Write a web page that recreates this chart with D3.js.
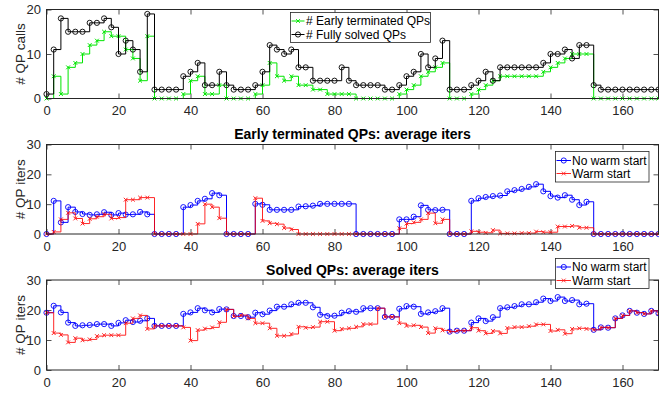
<!DOCTYPE html>
<html><head><meta charset="utf-8">
<script src="https://cdn.jsdelivr.net/npm/d3@7"></script>
<style>
body{margin:0;background:#fff}
svg{display:block;font-family:"Liberation Sans",Arial,Helvetica,sans-serif}
</style>
</head><body><svg id="c" width="659" height="393"></svg>
<script>
// ---------- data ----------
const iterIndex = [0,2,4,6,8,10,12,14,16,18,20,22,24,26,28,30,32,34,36,38,40,42,44,46,48,50,52,54,56,58,60,62,64,66,68,70,72,74,76,78,80,82,84,86,88,90,92,94,96,98,100,102,104,106,108,110,112,114,116,118,120,122,124,126,128,130,132,134,136,138,140,142,144,146,148,150,152,154,156,158,160,162,164,166,168,170];
const xTicks = [0,20,40,60,80,100,120,140,160];
const callsYTicks = [0,10,20];
const itersYTicks = [0,10,20,30];

const earlyTerminatedCalls = [
 0,5,1,7,8,10,12,13,15,14,
 14,11,9,4,14,0,0,0,0,1,
 4,5,1,1,3,0,0,0,0,1,
 3,8,5,4,5,3,3,2,2,1,
 1,1,1,0,0,0,0,0,0,1,
 2,3,5,6,7,8,0,0,0,1,
 2,3,4,5,5,5,5,5,5,6,
 7,8,9,10,10,10,0,0,0,0,
 0,0,0,0,0,0];
const fullySolvedCalls = [
 1,11,18,15,15,15,17,17,18,16,
 10,13,11,6,19,2,2,2,2,5,
 6,8,3,3,6,3,2,2,2,3,
 6,12,11,10,11,7,7,4,4,4,
 4,7,4,3,3,3,3,2,2,3,
 5,6,10,7,9,13,2,2,2,3,
 4,6,4,7,7,7,7,7,7,8,
 10,10,11,9,12,12,3,2,2,2,
 2,2,2,2,2,2];
const earlyNoWarm = [
 0,11.1,3.9,9.0,7.4,6.7,6.4,6.6,7.3,6.4,
 7.0,6.5,6.6,7.4,6.6,0,0,0,0,9.0,
 9.7,11.1,11.8,13.7,13.0,0,0,0,0,10.1,
 9.8,8.1,8.1,8.1,8.1,9.2,9.3,9.5,10.1,10.1,
 10.1,10.1,10.1,0,0,0,0,0,0,4.9,
 4.9,5.8,9.6,8.1,8.0,8.1,0,0,0,11.1,
 12.0,12.4,12.7,12.9,14.3,14.7,15.1,15.8,16.7,14.3,
 12.7,12.2,13.0,11.5,9.7,10.8,0,0,0,0,
 0,0,0,0,0,0];
const earlyWarm = [
 0,0.7,4.9,7.1,5.2,3.5,5.1,5.8,6.6,5.2,
 5.5,11.5,11.5,12.2,12.2,0,0,0,0,0,
 0,3.4,10.0,9.0,5.3,0,0,0,0,12.0,
 4.4,3.6,3.3,2.0,1.5,0,0,0,0,0,
 0,0,0,0,0,0,0,0,0,1.9,
 3.5,3.9,4.9,7.0,3.6,4.9,0,0,0,0.9,
 0.6,0.4,1.3,0.2,0.2,0.2,0.3,0.3,0.8,0.6,
 0.6,2.5,2.5,2.7,2.1,2.1,0,0,0,0,
 0,0,0,0,0,0];
const solvedNoWarm = [
 19.1,21.4,19.2,15.8,14.7,14.9,15.0,15.3,15.3,14.7,
 15.7,16.6,16.0,16.4,17.2,14.7,14.7,14.7,14.7,18.7,
 19.2,20.6,19.9,19.2,20.3,20.2,18.0,18.0,17.6,19.1,
 18.6,19.8,21.1,21.1,21.9,22.4,22.4,20.9,18.4,18.0,
 18.1,19.1,19.6,19.4,20.6,20.6,20.6,17.7,17.7,20.4,
 21.3,21.1,18.7,19.2,19.6,20.6,12.8,13.1,13.1,15.8,
 17.2,16.3,17.6,20.6,20.9,21.3,21.9,21.9,22.6,23.8,
 23.0,24.3,23.0,23.3,21.9,22.1,13.4,14.2,14.1,17.2,
 18.2,19.7,19.1,18.7,19.7,18.9];
const solvedWarm = [
 19.1,12.3,11.7,9.2,10.6,9.9,10.2,11.3,11.6,11.6,
 11.6,15.6,17.2,18.2,13.7,14.7,14.7,14.7,14.7,14.2,
 9.8,13.3,13.8,14.2,15.9,20.2,17.9,18.3,17.2,15.6,
 15.6,13.9,11.4,11.4,12.0,14.4,14.1,14.3,16.1,16.1,
 13.1,13.7,13.9,14.4,15.3,15.3,20.6,17.7,17.7,15.6,
 14.7,14.9,14.3,12.3,13.9,13.2,12.8,13.1,13.1,14.1,
 13.1,12.2,13.0,12.2,14.0,14.3,14.3,14.6,15.2,15.2,
 13.0,13.4,12.1,13.7,13.9,13.7,13.4,14.2,14.1,17.2,
 18.2,19.7,19.1,18.7,19.7,18.9];

const legendCalls = ["# Early terminated QPs", "# Fully solved QPs"];
const legendIters = ["No warm start", "Warm start"];
const titles = ["Early terminated QPs: average iters", "Solved QPs: average iters"];

// ---------- drawing ----------
const svg = d3.select("#c");
const AX = "#262626";
const L = 46.5, R = 658.5;
const x = d3.scaleLinear().domain([0, 170]).range([L, R]);

const circlePath = "M2.6,0A2.6,2.6 0 1,1 -2.6,0A2.6,2.6 0 1,1 2.6,0";
const crossPath = "M-1.9,-1.9L1.9,1.9M-1.9,1.9L1.9,-1.9";

function drawPanel(cfg) {
  const y = d3.scaleLinear().domain(cfg.yDomain).range([cfg.bottom, cfg.top]);
  const g = svg.append("g");

  // ticks
  const bottomAx = d3.axisBottom(x).tickValues(xTicks).tickSize(-5).tickPadding(7.5);
  const topAx = d3.axisTop(x).tickValues(xTicks).tickSize(-5).tickFormat("");
  const leftAx = d3.axisLeft(y).tickValues(cfg.yTicks).tickSize(-5).tickPadding(5.5);
  const rightAx = d3.axisRight(y).tickValues(cfg.yTicks).tickSize(-5).tickFormat("");
  const axes = [
    [bottomAx, `translate(0,${cfg.bottom})`],
    [topAx, `translate(0,${cfg.top})`],
    [leftAx, `translate(${L},0)`],
    [rightAx, `translate(${R},0)`]
  ];
  axes.forEach(([a, t]) => {
    const ag = g.append("g").attr("transform", t).call(a);
    ag.select(".domain").remove();
    ag.selectAll("line").attr("stroke", AX).attr("stroke-width", 0.8);
    ag.selectAll("text").attr("fill", AX).style("font-size", "13px")
      .style("font-family", '"Liberation Sans",Arial,sans-serif');
  });

  // series
  const line = d3.line().x(d => x(d[0])).y(d => y(d[1])).curve(d3.curveStepAfter);
  cfg.series.forEach(s => {
    const pts = iterIndex.map((xi, i) => [xi, s.values[i]]);
    const sg = g.append("g").attr("opacity", s.opacity || 1);
    sg.append("path").attr("d", line(pts)).attr("fill", "none")
      .attr("stroke", s.color).attr("stroke-width", 1);
    sg.selectAll("path.m").data(pts).join("path").attr("class", "m")
      .attr("transform", d => `translate(${x(d[0])},${y(d[1])})`)
      .attr("d", s.marker === "o" ? circlePath : crossPath)
      .attr("fill", "none").attr("stroke", s.color).attr("stroke-width", s.marker === "o" ? 0.9 : 1);
  });

  // box
  g.append("rect").attr("x", L).attr("y", cfg.top).attr("width", R - L)
    .attr("height", cfg.bottom - cfg.top).attr("fill", "none")
    .attr("stroke", AX).attr("stroke-width", 1);

  // y label
  g.append("text").attr("transform", `translate(24.5,${(cfg.top + cfg.bottom) / 2}) rotate(-90)`)
    .attr("text-anchor", "middle").style("font-size", "13.5px").attr("fill", AX)
    .text(cfg.ylabel);

  // title
  if (cfg.title) {
    g.append("text").attr("x", (L + R) / 2).attr("y", cfg.titleY)
      .attr("text-anchor", "middle").style("font-size", "14px").style("font-weight", "bold")
      .attr("fill", "#000").text(cfg.title);
  }

  // legend
  const lg = cfg.legend;
  const lgG = svg.append("g");
  lgG.append("rect").attr("x", lg.x).attr("y", lg.y).attr("width", lg.w).attr("height", lg.h)
    .attr("fill", "#fff").attr("stroke", AX).attr("stroke-width", 0.8);
  cfg.series.forEach((s, i) => {
    const ry = lg.rows[i];
    const row = lgG.append("g").attr("opacity", s.opacity || 1);
    row.append("line").attr("x1", lg.lx1).attr("x2", lg.lx2).attr("y1", ry).attr("y2", ry)
      .attr("stroke", s.color).attr("stroke-width", 1);
    row.append("path").attr("transform", `translate(${(lg.lx1 + lg.lx2) / 2},${ry})`)
      .attr("d", s.marker === "o" ? circlePath : crossPath)
      .attr("fill", "none").attr("stroke", s.color).attr("stroke-width", 0.9);
    lgG.append("text").attr("x", lg.tx).attr("y", ry).attr("dy", "0.35em")
      .style("font-size", "12px").attr("fill", "#000").text(lg.labels[i]);
  });
}

drawPanel({
  top: 9.5, bottom: 98.5, yDomain: [0, 20], yTicks: callsYTicks, ylabel: "# QP calls",
  series: [
    {values: earlyTerminatedCalls, color: "#00e600", marker: "x"},
    {values: fullySolvedCalls, color: "#000", marker: "o"}
  ],
  legend: {x: 290.5, y: 12.5, w: 140, h: 30, rows: [21, 34.5], lx1: 291.5, lx2: 304.5, tx: 306, labels: legendCalls}
});

drawPanel({
  top: 144.5, bottom: 234, yDomain: [0, 30], yTicks: itersYTicks, ylabel: "# QP iters",
  title: titles[0], titleY: 139,
  series: [
    {values: earlyNoWarm, color: "#0000ff", marker: "o"},
    {values: earlyWarm, color: "#ff0000", marker: "x", opacity: 0.85}
  ],
  legend: {x: 555.5, y: 151.5, w: 93.5, h: 30.5, rows: [160.5, 173.5], lx1: 556.5, lx2: 571, tx: 572, labels: legendIters}
});

drawPanel({
  top: 280, bottom: 370, yDomain: [0, 30], yTicks: itersYTicks, ylabel: "# QP iters",
  title: titles[1], titleY: 275,
  series: [
    {values: solvedNoWarm, color: "#0000ff", marker: "o"},
    {values: solvedWarm, color: "#ff0000", marker: "x", opacity: 0.85}
  ],
  legend: {x: 555.5, y: 258.5, w: 93.5, h: 30, rows: [267, 280.5], lx1: 556.5, lx2: 571, tx: 572, labels: legendIters}
});
</script>
</body></html>
